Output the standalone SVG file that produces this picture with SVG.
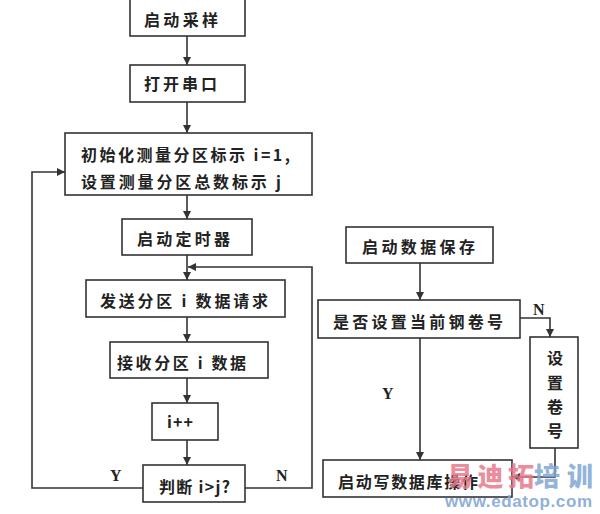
<svg xmlns="http://www.w3.org/2000/svg" width="600" height="514" viewBox="0 0 600 514">
<defs>
<marker id="ah" viewBox="0 0 10 10" refX="10" refY="5" markerWidth="8" markerHeight="8" markerUnits="userSpaceOnUse" orient="auto">
<path d="M0,0 L10,5 L0,10 z" fill="#333"/>
</marker>
<style>
.box{fill:#fff;stroke:#333;stroke-width:1.6}
.t{font-family:"Noto Sans CJK SC","Noto Sans",sans-serif;font-size:16px;font-weight:bold;fill:#222}
.l{font-family:"Liberation Serif",serif;font-size:16px;font-weight:bold;fill:#222}
.c{fill:none;stroke:#333;stroke-width:1.6}
.ca{fill:none;stroke:#333;stroke-width:1.6;marker-end:url(#ah)}
</style>
</defs>
<rect width="600" height="514" fill="#fff"/>
<g id="connectors">
<line class="ca" x1="187" y1="36" x2="187" y2="65"/>
<line class="ca" x1="187" y1="102" x2="187" y2="133"/>
<line class="ca" x1="187" y1="195" x2="187" y2="219"/>
<line class="ca" x1="187" y1="255" x2="187" y2="280"/>
<line class="ca" x1="187" y1="317" x2="187" y2="342"/>
<line class="ca" x1="187" y1="378" x2="187" y2="403"/>
<line class="ca" x1="187" y1="440" x2="187" y2="465"/>
<polyline class="ca" points="245,488 312,488 312,267 188,267"/>
<polyline class="ca" points="143,488 32,488 32,172 65,172"/>
<line class="ca" x1="420" y1="263" x2="420" y2="300"/>
<line class="ca" x1="420" y1="338" x2="420" y2="460"/>
<polyline class="ca" points="520,318 550,318 550,337"/>
<polyline class="ca" points="555,448 555,477 512,477"/>
<text class="l" x="110" y="481">Y</text>
<text class="l" x="276" y="481">N</text>
<text class="l" x="533" y="315">N</text>
<text class="l" x="382" y="399">Y</text>
</g>
<g id="n1"><rect class="box" x="130" y="-1" width="115" height="37"/><text class="t" x="144" y="26" textLength="74">启动采样</text></g>
<g id="n2"><rect class="box" x="130" y="65" width="115" height="37"/><text class="t" x="144" y="90" textLength="73">打开串口</text></g>
<g id="n3"><rect class="box" x="65" y="133" width="247" height="62"/><text class="t" x="81" y="161" textLength="209">初始化测量分区标示 i=1,</text><text class="t" x="81" y="188" textLength="200">设置测量分区总数标示 j</text></g>
<g id="n4"><rect class="box" x="122" y="219" width="130" height="36"/><text class="t" x="137" y="245" textLength="93">启动定时器</text></g>
<g id="n5"><rect class="box" x="86" y="280" width="199" height="37"/><text class="t" x="100" y="307" textLength="168">发送分区 i 数据请求</text></g>
<g id="n6"><rect class="box" x="110" y="342" width="158" height="36"/><text class="t" x="117" y="369" textLength="129">接收分区 i 数据</text></g>
<g id="n7"><rect class="box" x="152" y="403" width="66" height="37"/><text class="t" x="167" y="428" textLength="26">i++</text></g>
<g id="n8"><rect class="box" x="143" y="465" width="102" height="37"/><text class="t" x="159" y="493" textLength="71">判断 i&gt;j?</text></g>
<g id="n9"><rect class="box" x="346" y="227" width="147" height="36"/><text class="t" x="362" y="253" textLength="113">启动数据保存</text></g>
<g id="n10"><rect class="box" x="318" y="300" width="202" height="38"/><text class="t" x="333" y="328" textLength="170">是否设置当前钢卷号</text></g>
<g id="n11"><rect class="box" x="530" y="337" width="48" height="111"/>
<text class="t" x="555" y="364" text-anchor="middle">设</text>
<text class="t" x="555" y="389" text-anchor="middle">置</text>
<text class="t" x="555" y="413" text-anchor="middle">卷</text>
<text class="t" x="555" y="437" text-anchor="middle">号</text></g>
<g id="n12"><rect class="box" x="323" y="460" width="189" height="37"/><text class="t" x="338" y="488" textLength="140">启动写数据库操作</text></g>
<g id="watermark" font-family="'Noto Sans CJK SC',sans-serif" font-weight="900">
<text x="447" y="486" font-size="26" fill="#e8788a" fill-opacity="0.85" textLength="87">易迪拓</text>
<text x="534" y="486" font-size="26" fill="#7fa6d4" fill-opacity="0.85" textLength="59">培训</text>
<text x="445" y="507" font-family="'Liberation Sans',sans-serif" font-weight="bold" font-size="17" fill="#7fa6d4" fill-opacity="0.9" textLength="147">www.edatop.com</text>
</g>
</svg>
